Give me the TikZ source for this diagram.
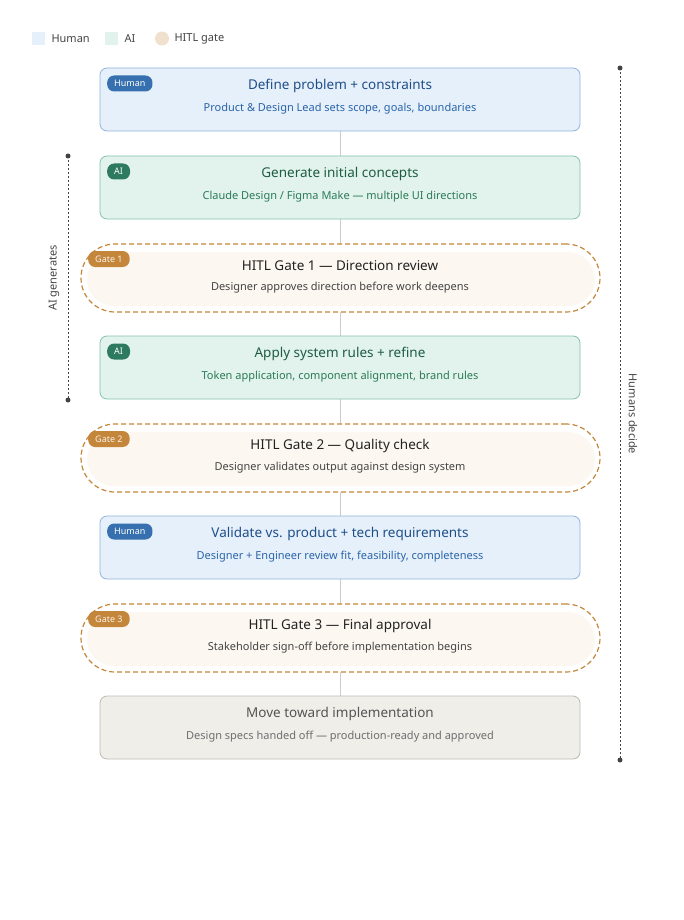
\documentclass[tikz,border=0pt]{standalone}
\usepackage{fontspec}
\setmainfont{Noto Sans}
\begin{document}
\begin{tikzpicture}[x=1pt,y=-1pt,
 box/.style={rounded corners=7pt,line width=0.8pt,minimum width=480pt,minimum height=63pt},
 human/.style={box,draw=hb,fill=hf},
 ai/.style={box,draw=ab,fill=af},
 fin/.style={box,draw=gb,fill=gf},
 gate/.style={rounded corners=34pt,draw=gd,dashed,dash pattern=on 5pt off 3pt,line width=1.2pt,minimum width=519pt,minimum height=68pt},
 inner/.style={rounded corners=27pt,fill=gtf,minimum width=508pt,minimum height=54pt},
 ttl/.style={font=\fontsize{13.5}{16}\selectfont},
 sub/.style={font=\fontsize{11}{13}\selectfont},
 badge/.style={rounded corners=7pt,text=white,font=\fontsize{9}{10}\selectfont,minimum height=16pt,inner xsep=7pt},
 conn/.style={draw=lc,line width=1pt},
 side/.style={draw=sd,line width=1pt,dash pattern=on 2pt off 2pt}]
\definecolor{hf}{HTML}{E6F0FA}\definecolor{hb}{HTML}{90B4DC}\definecolor{ht}{HTML}{1F4F8A}\definecolor{hs}{HTML}{2A64A8}\definecolor{hbg}{HTML}{3670AE}
\definecolor{af}{HTML}{E1F3EC}\definecolor{ab}{HTML}{86C2A9}\definecolor{at}{HTML}{1F5C45}\definecolor{as}{HTML}{2C7A58}\definecolor{abg}{HTML}{2E7A60}
\definecolor{gd}{HTML}{C4863A}\definecolor{gtf}{HTML}{FCF7F0}\definecolor{gt}{HTML}{222222}\definecolor{gs}{HTML}{444444}
\definecolor{gf}{HTML}{F0EEE8}\definecolor{gb}{HTML}{BDBBB5}\definecolor{ft}{HTML}{555555}
\definecolor{lc}{HTML}{CCCCCC}\definecolor{sd}{HTML}{444444}\definecolor{lg}{HTML}{444444}
\useasboundingbox[fill=white] (0,0) rectangle (684,920);
% legend
\fill[hf] (32,32) rectangle (45,45);
\node[anchor=west,font=\fontsize{11}{13}\selectfont,text=lg] (lh) at (48,38.5) {Human};
\fill[af] (105,32) rectangle (118,45);
\node[anchor=west,font=\fontsize{11}{13}\selectfont,text=lg] (la) at (121,38.5) {AI};
\fill[gd!25] (162,38.5) circle (7);
\node[anchor=west,font=\fontsize{11}{13}\selectfont,text=lg] (lgt) at (171,38.5) {HITL gate};
% connectors (behind)
\draw[conn] (340,131) -- (340,696);
% boxes
\node[human] (b1) at (340,99.5) {};
\node[ttl,text=ht] (t1) at (340,86) {Define problem + constraints};
\node[sub,text=hs] (s1) at (340,108.5) {Product \& Design Lead sets scope, goals, boundaries};
\node[badge,fill=hbg,anchor=west] (bb1) at (107,83.5) {Human};
\node[ai] (b2) at (340,187.5) {};
\node[ttl,text=at] (t2) at (340,174) {Generate initial concepts};
\node[sub,text=as] (s2) at (340,196.5) {Claude Design / Figma Make — multiple UI directions};
\node[badge,fill=abg,anchor=west] (bb2) at (107,171.5) {AI};
% gate 1
\node[gate,fill=white] (g1) at (340.5,278) {};
\node[inner] at (341,279) {};
\node[ttl,text=gt] (gt1) at (340,266) {HITL Gate 1 — Direction review};
\node[sub,text=gs] (gs1) at (340,288) {Designer approves direction before work deepens};
\node[badge,fill=gd,anchor=west,text=white!90!gd] (gb1) at (88,259) {Gate 1};
\node[ai] (b3) at (340,367.5) {};
\node[ttl,text=at] (t3) at (340,354) {Apply system rules + refine};
\node[sub,text=as] (s3) at (340,376.5) {Token application, component alignment, brand rules};
\node[badge,fill=abg,anchor=west] (bb3) at (107,351.5) {AI};
% gate 2
\node[gate,fill=white] (g2) at (340.5,458) {};
\node[inner] at (341,459) {};
\node[ttl,text=gt] (gt2) at (340,446) {HITL Gate 2 — Quality check};
\node[sub,text=gs] (gs2) at (340,468) {Designer validates output against design system};
\node[badge,fill=gd,anchor=west,text=white!90!gd] (gb2) at (88,439) {Gate 2};
\node[human] (b4) at (340,547.5) {};
\node[ttl,text=ht] (t4) at (340,534) {Validate vs. product + tech requirements};
\node[sub,text=hs] (s4) at (340,556.5) {Designer + Engineer review fit, feasibility, completeness};
\node[badge,fill=hbg,anchor=west] (bb4) at (107,531.5) {Human};
% gate 3
\node[gate,fill=white] (g3) at (340.5,638) {};
\node[inner] at (341,639) {};
\node[ttl,text=gt] (gt3) at (340,626) {HITL Gate 3 — Final approval};
\node[sub,text=gs] (gs3) at (340,648) {Stakeholder sign-off before implementation begins};
\node[badge,fill=gd,anchor=west,text=white!90!gd] (gb3) at (88,619) {Gate 3};
\node[fin] (b5) at (340,727.5) {};
\node[ttl,text=ft] (t5) at (340,714) {Move toward implementation};
\node[sub,text=ft!85!white] (s5) at (340,736.5) {Design specs handed off — production-ready and approved};
% side brackets
\coordinate (ra) at (620,68); \coordinate (rb) at (620,760);
\draw[side] (ra) -- (rb); \fill[sd] (ra) circle (2.5); \fill[sd] (rb) circle (2.5);
\node[rotate=-90,font=\fontsize{11}{13}\selectfont,text=lg] (rl) at (633,414) {Humans decide};
\coordinate (la1) at (68,156); \coordinate (la2) at (68,400);
\draw[side] (la1) -- (la2); \fill[sd] (la1) circle (2.5); \fill[sd] (la2) circle (2.5);
\node[rotate=90,font=\fontsize{11}{13}\selectfont,text=lg] (ll) at (54,278) {AI generates};
\end{tikzpicture}
\end{document}
